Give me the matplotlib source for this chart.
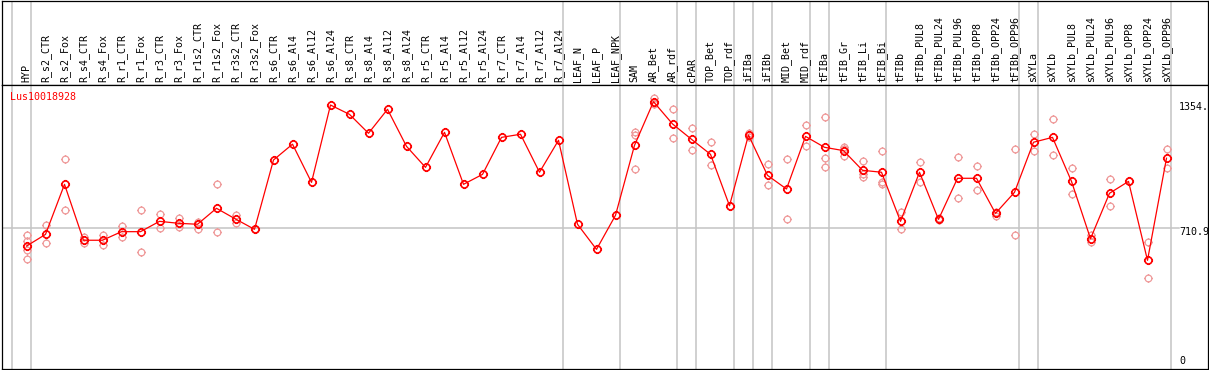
"""Expression profile of Lus10018928 across tissues / treatments."""
import matplotlib

matplotlib.use("Agg")
import matplotlib.pyplot as plt
from matplotlib.path import Path

W_PX, H_PX = 1209, 370
DPI = 100

GENE = "Lus10018928"

samples = [
    "HYP", "R_s2_CTR", "R_s2_Fox", "R_s4_CTR", "R_s4_Fox", "R_r1_CTR", "R_r1_Fox",
    "R_r3_CTR", "R_r3_Fox", "R_r1s2_CTR", "R_r1s2_Fox", "R_r3s2_CTR", "R_r3s2_Fox",
    "R_s6_CTR", "R_s6_Al4", "R_s6_Al12", "R_s6_Al24", "R_s8_CTR", "R_s8_Al4",
    "R_s8_Al12", "R_s8_Al24", "R_r5_CTR", "R_r5_Al4", "R_r5_Al12", "R_r5_Al24",
    "R_r7_CTR", "R_r7_Al4", "R_r7_Al12", "R_r7_Al24", "LEAF_N", "LEAF_P", "LEAF_NPK",
    "SAM", "AR_Bet", "AR_rdf", "cPAR", "TOP_Bet", "TOP_rdf", "iFIBa", "iFIBb",
    "MID_Bet", "MID_rdf", "tFIBa", "tFIB_Gr", "tFIB_Li", "tFIB_Bi", "tFIBb",
    "tFIBb_PUL8", "tFIBb_PUL24", "tFIBb_PUL96", "tFIBb_OPP8", "tFIBb_OPP24",
    "tFIBb_OPP96", "sXYLa", "sXYLb", "sXYLb_PUL8", "sXYLb_PUL24", "sXYLb_PUL96",
    "sXYLb_OPP8", "sXYLb_OPP24", "sXYLb_OPP96",
]

mean_expr = [
    618, 678, 935, 648, 648, 692, 692, 745, 735, 730, 812, 757, 704,
    1060, 1141, 945, 1342, 1294, 1197, 1320, 1130, 1022, 1202, 935, 986,
    1176, 1192, 997, 1161, 730, 601, 776,
    1135, 1359, 1245, 1166, 1089, 825, 1188, 981, 911, 1181, 1125, 1108, 1007, 997, 745,
    997, 755, 966, 966, 786, 894,
    1151, 1176, 950, 656, 889, 950, 545, 1069,
]

replicates = [
    [673, 646, 598, 552], [725, 632], [1065, 803], [665, 636], [675, 624],
    [723, 666], [803, 586], [781, 712], [761, 716], [743, 706], [935, 692],
    [778, 738], [704, 704],
    [], [], [], [], [], [], [], [], [], [], [], [], [], [], [], [], [], [], [],
    [1202, 1190, 1012], [1380, 1350, 1347], [1320, 1171], [1222, 1110], [1152, 1033],
    [825, 825], [1200, 1176], [1038, 930], [1063, 755], [1239, 1130],
    [1279, 1068, 1022], [1125, 1118, 1082], [1055, 987, 973], [1106, 948, 935],
    [795, 704], [1048, 945], [760, 750], [1074, 863], [1027, 904], [791, 771],
    [1115, 673], [1195, 1107], [1269, 1084], [1017, 884], [673, 637], [961, 822],
    [950, 950], [637, 453], [1115, 1020],
]

# last sample index of each group (vertical separators)
group_ends = [-1, 0, 28, 31, 34, 35, 37, 38, 39, 41, 42, 45, 52, 53, 60]

ref_value = 710.9
max_value = 1354

RED = "#ff0000"
LIGHT_RED = "#ef9a9a"
GRID = "#c4c4c4"

# pixel geometry of the reference
X0_PX, COL_PX = 26.5, 19.0
LEFT_PX, RIGHT_PX = 1.5, 1207.5
HEAD_TOP, HEAD_BOT, BOT_PX = 0.5, 85.0, 369.0
ZERO_PX, SCALE = 366.5, 0.19484  # pixel of value 0, pixels per unit

xmin = (LEFT_PX - X0_PX) / COL_PX
xmax = (RIGHT_PX - X0_PX) / COL_PX
ymin = (ZERO_PX - BOT_PX) / SCALE
ymax = (ZERO_PX - HEAD_BOT) / SCALE


def spiky_circle():
    # circle with four short ticks, like the bitmap markers of the original
    circle = Path.unit_circle()
    r0, r1 = 1.0, 1.3
    ticks = Path(
        [(0, r0), (0, r1), (r0, 0), (r1, 0), (0, -r0), (0, -r1), (-r0, 0), (-r1, 0)],
        [Path.MOVETO, Path.LINETO] * 4,
    )
    return Path.make_compound_path(circle, ticks)


MARKER = spiky_circle()

fig = plt.figure(figsize=(W_PX / DPI, H_PX / DPI), dpi=DPI, facecolor="white")


def frac_box(top_px, bot_px):
    return [LEFT_PX / W_PX, 1 - bot_px / H_PX, (RIGHT_PX - LEFT_PX) / W_PX, (bot_px - top_px) / H_PX]


ax_head = fig.add_axes(frac_box(HEAD_TOP, HEAD_BOT))
ax = fig.add_axes(frac_box(HEAD_BOT, BOT_PX), sharex=ax_head)

for a in (ax_head, ax):
    a.set_xlim(xmin, xmax)
    a.set_xticks([])
    a.set_yticks([])
    for spine in a.spines.values():
        spine.set_color("black")
        spine.set_linewidth(0.9)
    for g in group_ends:
        a.axvline(g + 0.23, color=GRID, linewidth=1.1, zorder=0)

ax_head.set_ylim(0, 1)
ax.set_ylim(ymin, ymax)

mono = "DejaVu Sans Mono"
for i, name in enumerate(samples):
    ax_head.text(i, 0.03, name, rotation=90, ha="center", va="bottom",
                 fontsize=7.2, family=mono, color="black")

ax.axhline(ref_value, xmin=0, xmax=(1179 - LEFT_PX) / (RIGHT_PX - LEFT_PX),
           color=GRID, linewidth=1.1, zorder=0)

xs = list(range(len(samples)))
for i, reps in enumerate(replicates):
    if reps:
        ax.plot([i] * len(reps), reps, linestyle="none", marker=MARKER, markersize=6.3,
                markerfacecolor="none", markeredgecolor=LIGHT_RED, markeredgewidth=0.9, zorder=2)

ax.plot(xs, mean_expr, color=RED, linewidth=0.9, zorder=3)
ax.plot(xs, mean_expr, linestyle="none", marker=MARKER, markersize=6.6, markerfacecolor="none",
        markeredgecolor=RED, markeredgewidth=1.2, zorder=4)

ax.text((10 - LEFT_PX) / (RIGHT_PX - LEFT_PX), (BOT_PX - 97) / (BOT_PX - HEAD_BOT), GENE,
        transform=ax.transAxes, ha="left", va="center", fontsize=7.2, family=mono, color=RED)

label_x = (1179 - X0_PX) / COL_PX
for val, txt, dy in [(max_value, "1354.", -4), (ref_value, "710.9", -4), (0, "0", 5)]:
    ax.annotate(txt, xy=(label_x, val), xytext=(0, dy), textcoords="offset pixels",
                ha="left", va="center", fontsize=7.2, family=mono, color="black")

fig.savefig("out.png", dpi=DPI, facecolor="white")
plt.close(fig)
